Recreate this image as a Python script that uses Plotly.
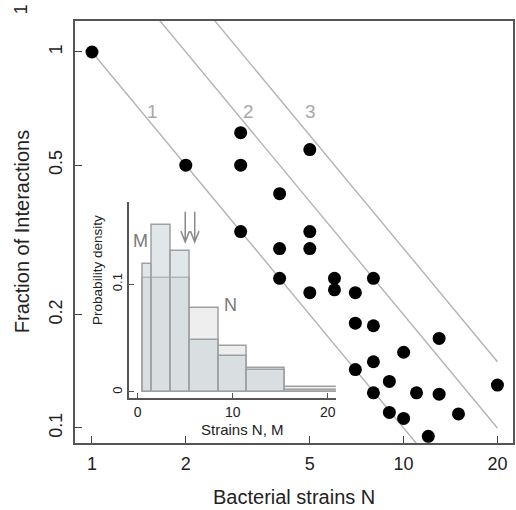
import plotly.graph_objects as go

# ---------------- data ----------------
strains_N = [1, 2, 3, 3, 3, 4, 4, 4, 5, 5, 5, 5, 6, 6, 7, 8, 7, 8, 13, 10,
             8, 7, 9, 20, 8, 11, 13, 9, 10, 15, 12]
fraction = [1.0, 0.5, 0.61, 0.5, 0.333, 0.42, 0.30, 0.25, 0.55, 0.333, 0.30, 0.229,
            0.25, 0.233, 0.229, 0.25, 0.19, 0.187, 0.173, 0.159,
            0.15, 0.143, 0.133, 0.13, 0.124, 0.124, 0.123, 0.11, 0.106, 0.109, 0.095]
line_levels = [1, 2, 3]
line_x = [1, 20]
x_ticks = [1, 2, 5, 10, 20]
y_ticks = [0.1, 0.2, 0.5, 1]
y_ticktext = ["0.1", "0.2", "0.5", "1"]

bin_edges = [0.5, 1.5, 3.5, 5.5, 8.5, 11.5, 15.5, 21.0]
density_N = [0.106, 0.106, 0.106, 0.078, 0.043, 0.022, 0.0043]
density_M = [0.119, 0.155, 0.131, 0.048, 0.033, 0.020, 0.0019]
arrow_means = [5.0, 6.0]
inset_xticks = [0, 10, 20]
inset_yticks = [0, 0.1]

# ---------------- layout helpers ----------------
W, H = 516, 510
L, R, T, B = 75, 1, 21, 67
PW, PH = W - L - R, H - T - B


def px(x):
    return (x - L) / PW


def py(y):
    return (H - B - y) / PH


TXT = "#222222"
GRAY_LINE = "#b3b3b3"
FONT = "Liberation Sans, Arial, sans-serif"

fig = go.Figure()

# reference lines y = k / N
for k in line_levels:
    fig.add_trace(go.Scatter(
        x=line_x, y=[k / v for v in line_x], mode="lines",
        line=dict(color=GRAY_LINE, width=1.4), hoverinfo="skip", showlegend=False,
        xaxis="x", yaxis="y"))

# data points
fig.add_trace(go.Scatter(
    x=strains_N, y=fraction, mode="markers",
    marker=dict(color="black", size=13), showlegend=False,
    xaxis="x", yaxis="y", cliponaxis=False))

# inset histograms
centers = [(a + b) / 2 for a, b in zip(bin_edges[:-1], bin_edges[1:])]
widths = [b - a for a, b in zip(bin_edges[:-1], bin_edges[1:])]
fig.add_trace(go.Bar(
    x=centers, y=density_N, width=widths,
    marker=dict(color="#eeeeee", line=dict(color="#a0a0a0", width=1.5)),
    showlegend=False, xaxis="x2", yaxis="y2"))
fig.add_trace(go.Bar(
    x=centers, y=density_M, width=widths,
    marker=dict(color="rgba(195,205,212,0.5)", line=dict(color="#a0a0a0", width=1.5)),
    showlegend=False, xaxis="x2", yaxis="y2"))

shapes = []
for m in arrow_means:
    shapes.append(dict(
        type="path", xref="x2", yref="y2",
        path=f"M {m},0.167 L {m},0.139 M {m-0.45},0.149 L {m},0.139 L {m+0.45},0.149",
        line=dict(color="#8a8a8a", width=1.5)))

annotations = []


def note(x, y, text, size, color=TXT, angle=0):
    annotations.append(dict(x=px(x), y=py(y), xref="paper", yref="paper",
                            xanchor="center", yanchor="middle",
                            text=text, showarrow=False, textangle=angle,
                            font=dict(size=size, color=color, family=FONT)))


# line labels
for k, (lx, ly) in zip(line_levels, [(153, 112), (249, 112), (312, 112)]):
    note(lx, ly, str(k), 19, "#a8a8a8")
# axis titles
note(295, 497, "Bacterial strains N", 20)
note(22, 232, "Fraction of Interactions", 20, angle=-90)
# inset titles and labels
note(243, 429, "Strains N, M", 15)
note(97, 270, "Probability density", 13.5, angle=-90)
note(141, 241, "M", 18, "#7a7a7a")
note(231, 305, "N", 18, "#7a7a7a")
# cut-off panel mark at top-left
note(21, 9, "1", 18, angle=-90)

fig.update_layout(
    width=W, height=H,
    margin=dict(l=L, r=R, t=T, b=B),
    paper_bgcolor="white", plot_bgcolor="rgba(0,0,0,0)",
    font=dict(family=FONT, color=TXT),
    barmode="overlay", bargap=0,
    shapes=shapes, annotations=annotations,
    xaxis=dict(type="log", range=[-0.0545, 1.351], tickvals=x_ticks,
               ticktext=[str(v) for v in x_ticks],
               ticks="inside", ticklen=7, tickwidth=1.3, tickcolor="#444",
               showline=True, linecolor="#555", linewidth=1.5, mirror=True,
               showgrid=False, zeroline=False,
               tickfont=dict(size=18, color=TXT), ticklabelstandoff=4),
    yaxis=dict(type="log", range=[-1.040, 0.0824], tickvals=y_ticks, ticktext=y_ticktext,
               ticks="inside", ticklen=7, tickwidth=1.3, tickcolor="#444",
               showline=True, linecolor="#555", linewidth=1.5, mirror=True,
               showgrid=False, zeroline=False, tickangle=-90,
               tickfont=dict(size=18, color=TXT), ticklabelstandoff=4),
    xaxis2=dict(domain=[px(129), px(337)], anchor="y2", range=[-0.94, 20.84],
                tickvals=inset_xticks, ticks="inside", ticklen=5, tickcolor="#555",
                showline=True, linecolor="#555", linewidth=1.5,
                showgrid=False, zeroline=False, tickfont=dict(size=14, color=TXT),
                ticklabelstandoff=0),
    yaxis2=dict(domain=[py(398), py(202)], anchor="x2", range=[-0.0056, 0.176],
                tickvals=inset_yticks, ticktext=["0", "0.1"], tickangle=-90,
                ticks="inside", ticklen=5, tickcolor="#555",
                showline=True, linecolor="#555", linewidth=1.5,
                showgrid=False, zeroline=False, tickfont=dict(size=13, color=TXT)),
)

fig.write_html("out.html", config={"displayModeBar": False},
               post_script="document.body.style.margin='0';document.body.style.padding='0';")
